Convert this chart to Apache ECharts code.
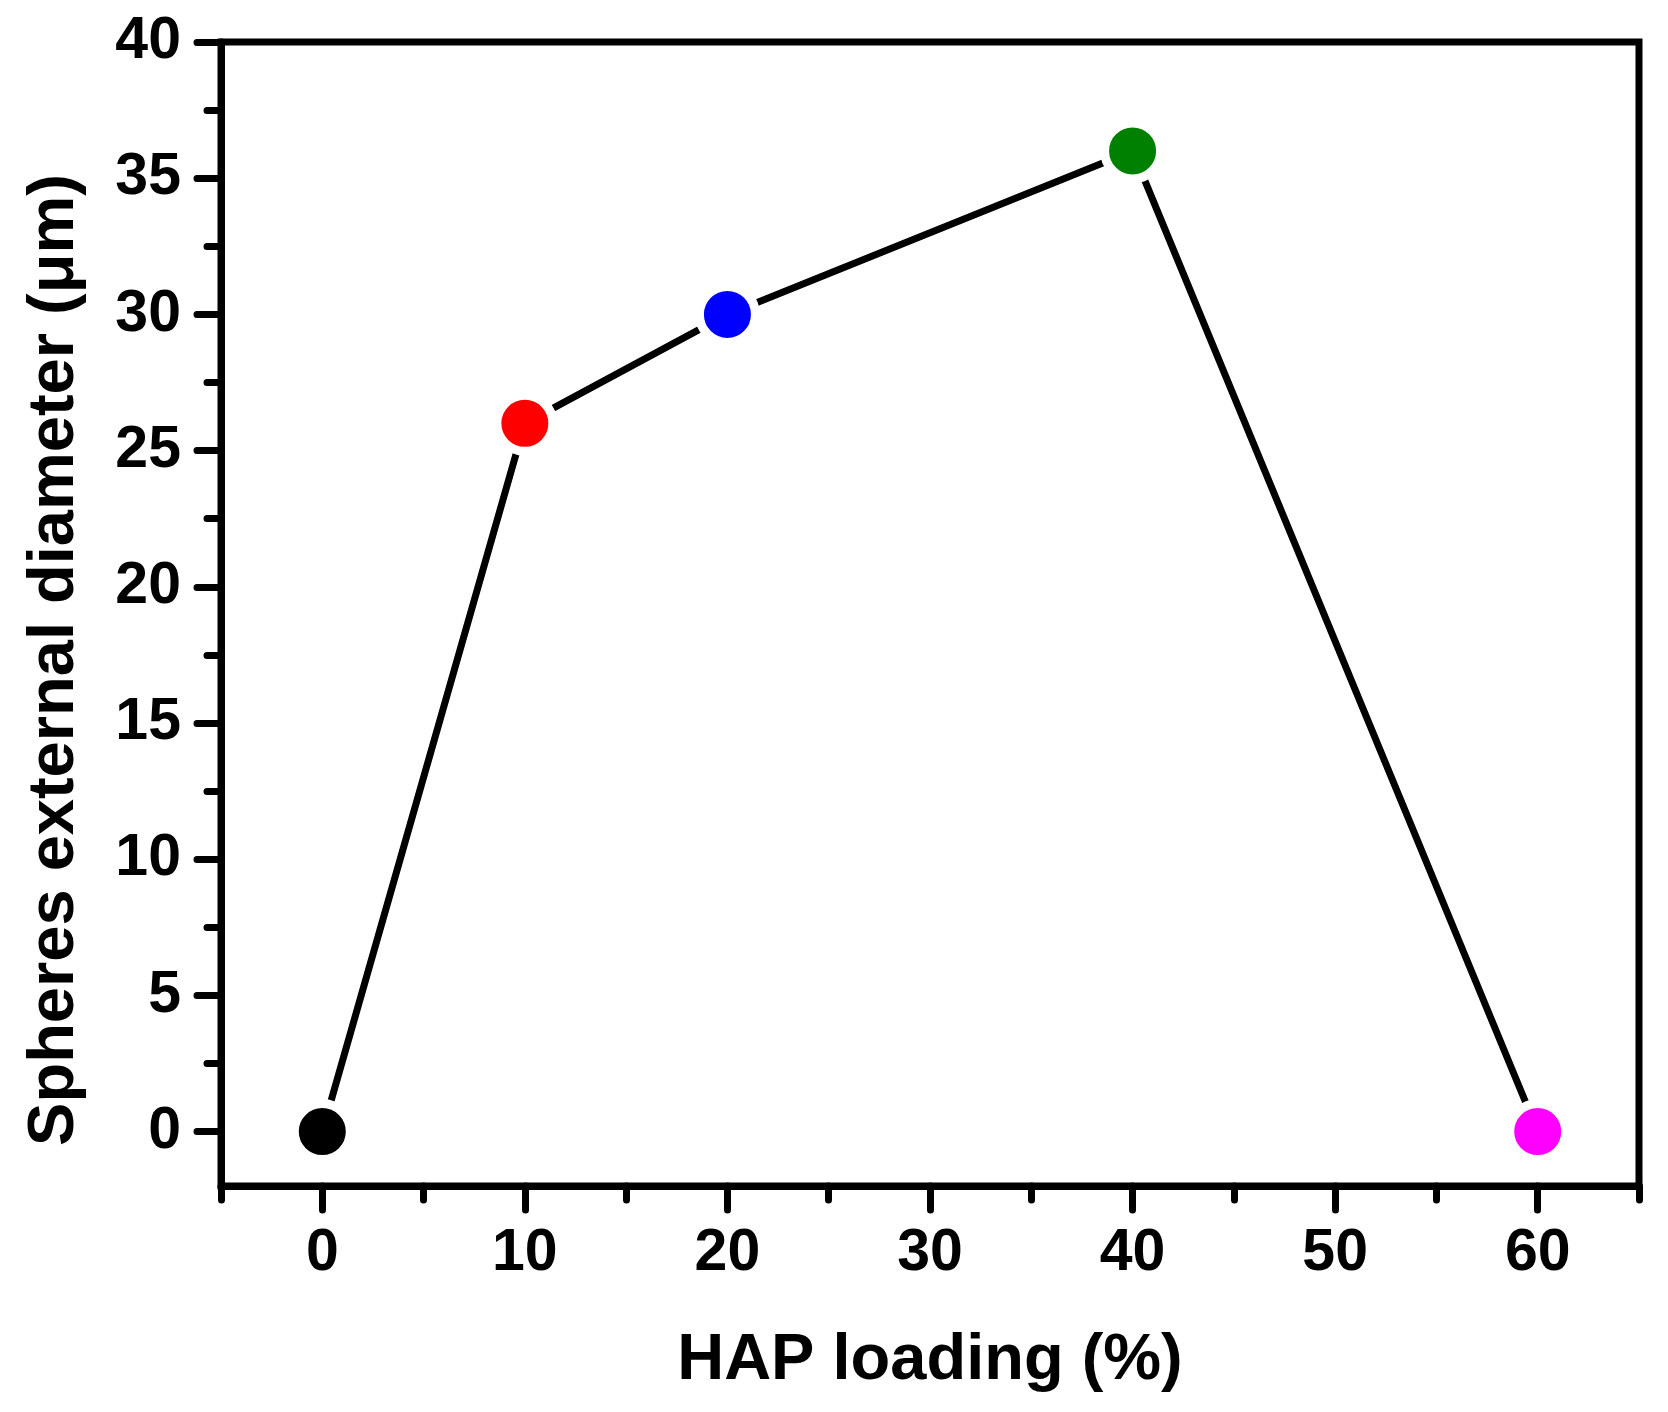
<!DOCTYPE html>
<html>
<head>
<meta charset="utf-8">
<title>Spheres external diameter vs HAP loading</title>
<script src="https://cdn.jsdelivr.net/npm/echarts@6/dist/echarts.min.js"></script>
<style>
    html, body { margin: 0; padding: 0; background: #fff; }
    #chart { width: 1668px; height: 1412px; }
</style>
</head>
<body>
<div id="chart"></div>
<script>
'use strict';

// data
var hapLoading = [0, 10, 20, 40, 60];
var diameter = [0, 26, 30, 36, 0];
var pointColors = ['#000000', '#ff0000', '#0000ff', '#008000', '#ff00ff'];

// ticks
var xMajor = [0, 10, 20, 30, 40, 50, 60];
var xMinor = [-5, 5, 15, 25, 35, 45, 55, 65];
var yMajor = [0, 5, 10, 15, 20, 25, 30, 35, 40];
var yMinor = [2.5, 7.5, 12.5, 17.5, 22.5, 27.5, 32.5, 37.5];

var xName = 'HAP loading (%)';
var yName = 'Spheres external diameter (\u03bcm)';

var chart = echarts.init(document.getElementById('chart'));

var font = 'Liberation Sans';
var tickStyle = { color: '#000', width: 7, cap: 'round' };

// series points, colour per point
var points = [];
for (var i = 0; i < hapLoading.length; i++) {
    points.push({
        value: [hapLoading[i], diameter[i]],
        itemStyle: { color: pointColors[i] }
    });
}

var option = {
    backgroundColor: '#fff',
    animation: false,
    grid: {
        left: 221, top: 42, right: 29, bottom: 226,
        show: true,
        borderColor: '#000',
        borderWidth: 7,
        backgroundColor: 'transparent'
    },
    xAxis: [
        {
            type: 'value', position: 'bottom',
            min: -5, max: 65,
            name: xName,
            nameLocation: 'middle',
            nameGap: 143,
            nameTextStyle: { fontFamily: font, fontWeight: 'bold', fontSize: 65, color: '#000' },
            axisLine: { show: true, onZero: false, lineStyle: { color: '#000', width: 7 } },
            axisTick: { show: true, inside: false, length: 24, customValues: xMajor, lineStyle: tickStyle },
            axisLabel: {
                customValues: xMajor,
                margin: 38,
                fontFamily: font, fontWeight: 'bold', fontSize: 59, color: '#000'
            },
            splitLine: { show: false }
        },
        {
            // minor ticks only
            type: 'value', position: 'bottom',
            min: -5, max: 65,
            axisLine: { show: false, onZero: false },
            axisTick: { show: true, inside: false, length: 14, customValues: xMinor, lineStyle: tickStyle },
            axisLabel: { show: false },
            splitLine: { show: false }
        }
    ],
    yAxis: [
        {
            type: 'value', position: 'left',
            min: -2, max: 40,
            name: yName,
            nameLocation: 'middle',
            nameGap: 133,
            nameTextStyle: {
                fontFamily: font, fontWeight: 'bold', fontSize: 65, color: '#000',
                padding: [0, 92, 0, 0]
            },
            axisLine: { show: true, onZero: false, lineStyle: { color: '#000', width: 7 } },
            axisTick: { show: true, inside: false, length: 24, customValues: yMajor, lineStyle: tickStyle },
            axisLabel: {
                customValues: yMajor,
                margin: 40,
                fontFamily: font, fontWeight: 'bold', fontSize: 59, color: '#000'
            },
            splitLine: { show: false }
        },
        {
            type: 'value', position: 'left',
            min: -2, max: 40,
            axisLine: { show: false, onZero: false },
            axisTick: { show: true, inside: false, length: 14, customValues: yMinor, lineStyle: tickStyle },
            axisLabel: { show: false },
            splitLine: { show: false }
        }
    ],
    series: [
        {
            type: 'line',
            xAxisIndex: 0,
            yAxisIndex: 0,
            data: points,
            symbol: 'circle',
            symbolSize: 56,
            // white ring gives the gap between line and marker
            itemStyle: { borderColor: '#fff', borderWidth: 9 },
            lineStyle: { color: '#000', width: 7, cap: 'round' },
            z: 3
        }
    ]
};

chart.setOption(option);
</script>
</body>
</html>
